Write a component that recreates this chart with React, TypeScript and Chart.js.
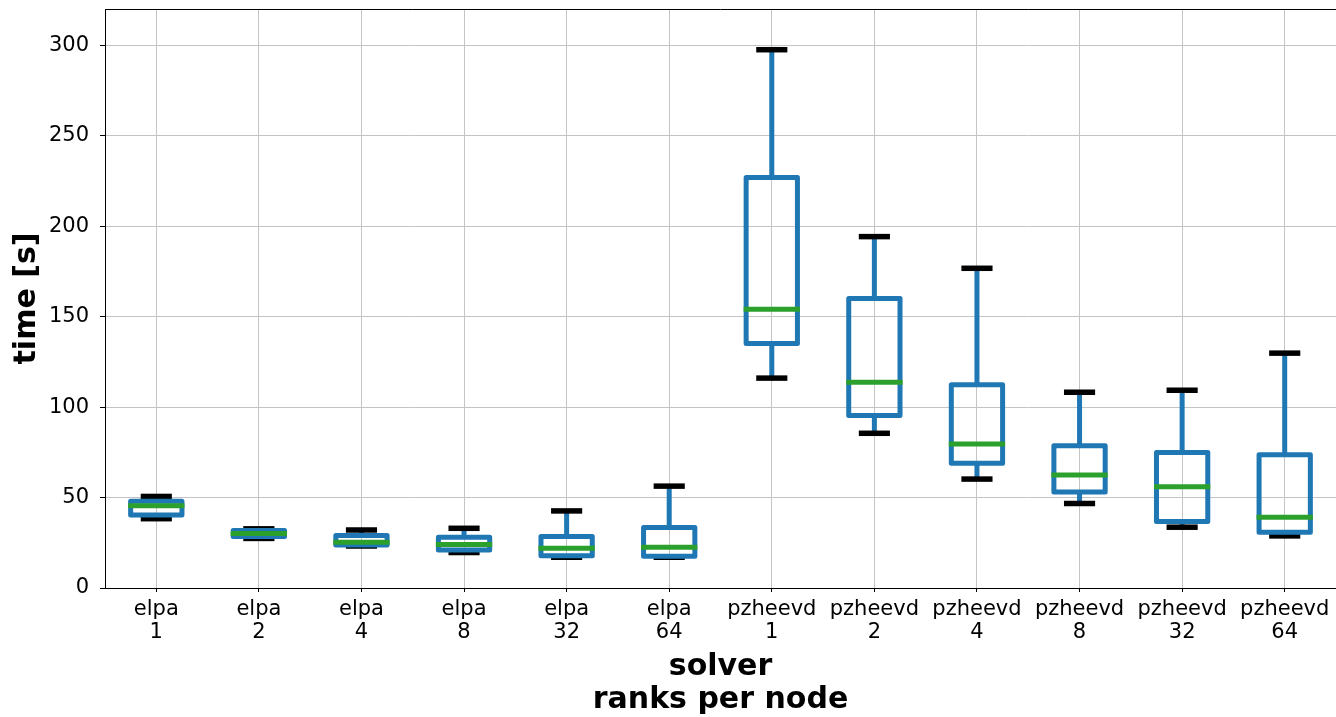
import { useEffect, useRef } from 'react';
import { Chart, registerables } from 'chart.js';

Chart.register(...registerables);
Chart.defaults.font.family = "'DejaVu Sans', sans-serif";
Chart.defaults.color = '#000';

// Solver / ranks-per-node categories
const solvers = ['elpa', 'elpa', 'elpa', 'elpa', 'elpa', 'elpa', 'pzheevd', 'pzheevd', 'pzheevd', 'pzheevd', 'pzheevd', 'pzheevd'];
const ranksPerNode = ['1', '2', '4', '8', '32', '64', '1', '2', '4', '8', '32', '64'];

// Box-plot statistics, time in seconds
const whiskerLow = [38.3, 27.4, 23.2, 19.6, 17.0, 17.0, 116.0, 85.5, 60.2, 46.7, 33.6, 28.8];
const quartile1 = [40.4, 28.4, 23.8, 21.0, 17.8, 17.5, 135.1, 95.4, 69.0, 53.0, 36.7, 30.8];
const medians = [45.4, 30.1, 25.3, 24.0, 22.0, 22.5, 154.0, 113.7, 79.6, 62.4, 55.9, 39.1];
const quartile3 = [47.9, 31.8, 29.0, 28.0, 28.4, 33.4, 226.9, 160.0, 112.4, 78.6, 74.9, 73.7];
const whiskerHigh = [50.6, 32.7, 32.0, 33.0, 42.6, 56.3, 297.5, 194.2, 176.7, 108.2, 109.3, 129.8];

const yTicks = [0, 50, 100, 150, 200, 250, 300];

const BLUE = '#1f77b4';
const GREEN = '#2ca02c';
const GRID = '#c4c4c4';

// Draws whiskers, caps, boxes and medians on the category / linear scales
const boxPlotPlugin = {
  id: 'boxPlot',
  afterDatasetsDraw(chart: any) {
    const { ctx, scales } = chart;
    const x = scales.x;
    const y = scales.y;
    const step = x.getPixelForValue(1) - x.getPixelForValue(0);
    const boxW = step * 0.5;
    const capW = step * 0.25;
    const line = (x1: number, y1: number, x2: number, y2: number) => {
      ctx.beginPath();
      ctx.moveTo(x1, y1);
      ctx.lineTo(x2, y2);
      ctx.stroke();
    };
    ctx.save();
    ctx.beginPath();
    ctx.rect(chart.chartArea.left, chart.chartArea.top, chart.chartArea.right - chart.chartArea.left, chart.chartArea.bottom - chart.chartArea.top);
    ctx.clip();
    solvers.forEach((_, i) => {
      const cx = x.getPixelForValue(i);
      const yLo = y.getPixelForValue(whiskerLow[i]);
      const yQ1 = y.getPixelForValue(quartile1[i]);
      const yMed = y.getPixelForValue(medians[i]);
      const yQ3 = y.getPixelForValue(quartile3[i]);
      const yHi = y.getPixelForValue(whiskerHigh[i]);

      ctx.lineWidth = 5;
      ctx.lineCap = 'butt';
      ctx.strokeStyle = BLUE;
      line(cx, yQ3, cx, yHi);
      line(cx, yQ1, cx, yLo);

      ctx.lineWidth = 5.5;
      ctx.lineCap = 'square';
      ctx.strokeStyle = '#000';
      line(cx - capW / 2, yHi, cx + capW / 2, yHi);
      line(cx - capW / 2, yLo, cx + capW / 2, yLo);

      ctx.lineWidth = 5;
      ctx.lineJoin = 'round';
      ctx.strokeStyle = BLUE;
      ctx.strokeRect(cx - boxW / 2, yQ3, boxW, yQ1 - yQ3);

      ctx.lineCap = 'square';
      ctx.strokeStyle = GREEN;
      line(cx - boxW / 2, yMed, cx + boxW / 2, yMed);
    });
    ctx.restore();
  },
};

// Top spine of the plot frame
const frameTopPlugin = {
  id: 'frameTop',
  afterDraw(chart: any) {
    const { ctx, chartArea } = chart;
    ctx.save();
    ctx.strokeStyle = '#000';
    ctx.lineWidth = 1;
    ctx.beginPath();
    ctx.moveTo(chartArea.left, Math.round(chartArea.top) + 0.5);
    ctx.lineTo(chartArea.right, Math.round(chartArea.top) + 0.5);
    ctx.stroke();
    ctx.restore();
  },
};

export default function App() {
  const ref = useRef<HTMLCanvasElement>(null);

  useEffect(() => {
    const chart = new Chart(ref.current as HTMLCanvasElement, {
      type: 'bar',
      data: {
        labels: solvers.map((s, i) => [s, ranksPerNode[i]]),
        datasets: [
          {
            label: 'time [s]',
            data: quartile1.map((v, i) => [v, quartile3[i]]) as any,
            backgroundColor: 'rgba(0,0,0,0)',
            borderWidth: 0,
            barPercentage: 0.5,
            categoryPercentage: 1,
          },
        ],
      },
      options: {
        responsive: false,
        animation: false,
        devicePixelRatio: 1,
        layout: { padding: { top: 9, left: 0, right: 0, bottom: 0 } },
        plugins: {
          legend: { display: false },
          tooltip: { enabled: false },
        },
        scales: {
          x: {
            offset: true,
            grid: {
              offset: false,
              color: GRID,
              lineWidth: 1,
              tickColor: '#000',
              tickLength: 4,
              tickWidth: 1,
            },
            border: { color: '#000', width: 1 },
            ticks: {
              color: '#000',
              font: { size: 21, lineHeight: 1.11 },
              padding: 6,
              maxRotation: 0,
              autoSkip: false,
            },
            title: {
              display: true,
              text: ['solver', 'ranks per node'],
              color: '#000',
              font: { size: 30, weight: 'bold', lineHeight: 1.1 },
              padding: { top: 0, bottom: 0 },
            },
            afterFit: (s: any) => {
              s.height = 129;
              s.paddingLeft = 0;
              s.paddingRight = 0;
            },
          },
          y: {
            min: 0,
            max: 320,
            afterBuildTicks: (s: any) => {
              s.ticks = yTicks.map((v) => ({ value: v }));
            },
            grid: {
              color: GRID,
              lineWidth: 1,
              tickColor: '#000',
              tickLength: 5,
              tickWidth: 1,
            },
            border: { color: '#000', width: 1 },
            ticks: {
              color: '#000',
              font: { size: 21 },
              padding: 11,
            },
            title: {
              display: true,
              text: 'time [s]',
              color: '#000',
              font: { size: 30, weight: 'bold', lineHeight: 1.1 },
              padding: { top: 11, bottom: 0 },
            },
            afterFit: (s: any) => {
              s.width = 105;
              s.paddingTop = 0;
              s.paddingBottom = 0;
            },
          },
        },
      } as any,
      plugins: [boxPlotPlugin, frameTopPlugin],
    });
    return () => chart.destroy();
  }, []);

  return (
    <div style={{ position: 'fixed', left: 0, top: 0, width: 1336, height: 717, background: '#fff' }}>
      <canvas ref={ref} width={1336} height={717} style={{ display: 'block' }} />
    </div>
  );
}
